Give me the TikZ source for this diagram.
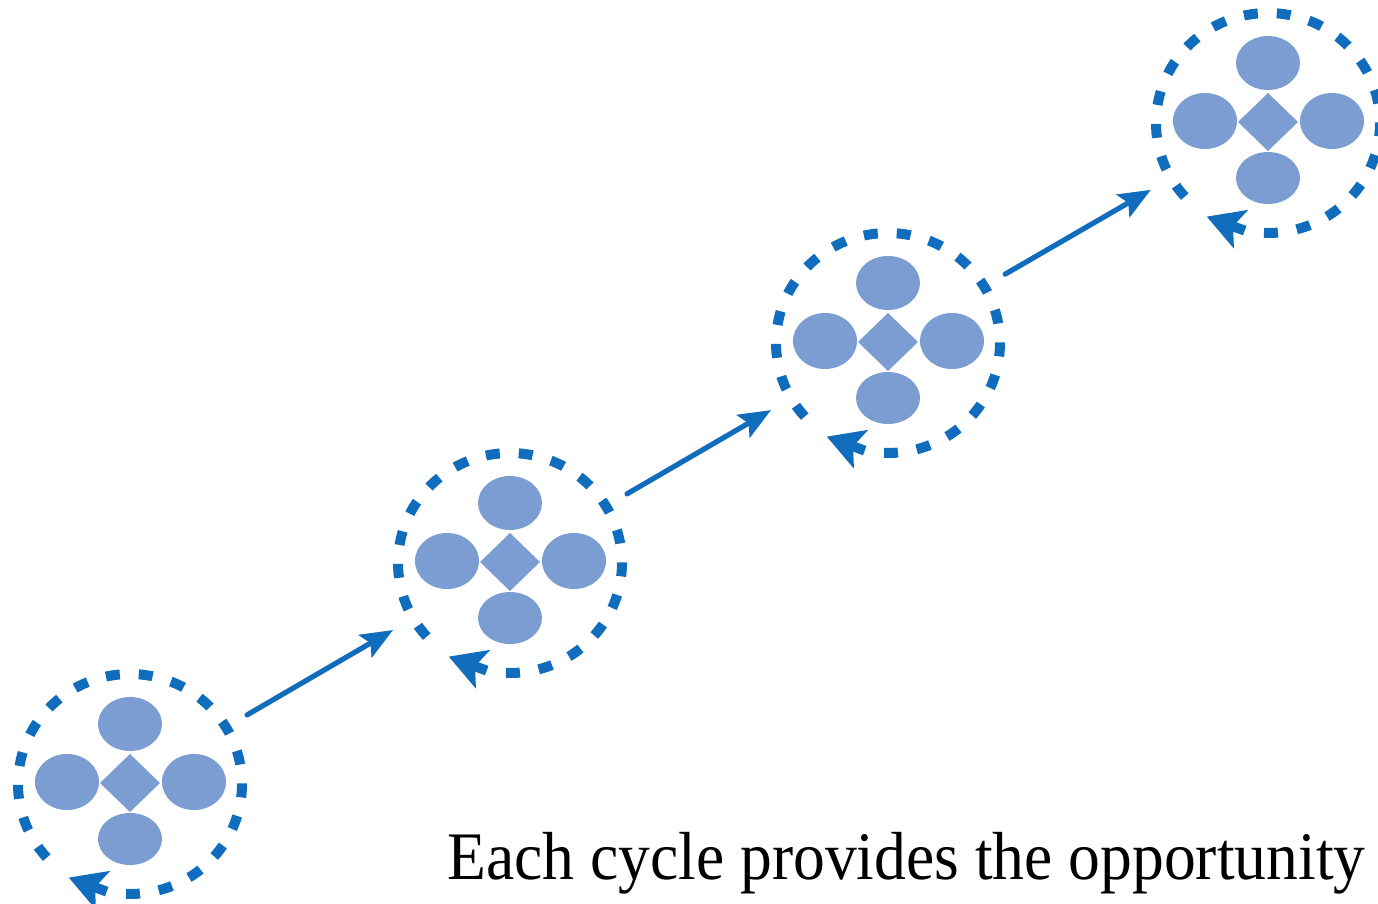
\documentclass[tikz,border=0pt]{standalone}
\usepackage{fontspec}
\setmainfont{Liberation Serif}
\usetikzlibrary{arrows.meta}
\definecolor{ringblue}{RGB}{16,108,188}
\definecolor{petal}{RGB}{123,157,210}
\newlength\captw
\begin{document}
\settowidth\captw{\fontsize{34pt}{40pt}\selectfont Each cycle provides the opportunity}
\pgfmathsetmacro\capsx{459pt/\captw}
\begin{tikzpicture}[x=0.5pt,y=-0.5pt,
  hub/.style={circle, draw=none, minimum size=135pt, inner sep=0pt},
  ring/.style={draw=ringblue, line width=5pt, dash pattern=on 7pt off 9.5pt},
  ringtip/.style={draw=ringblue, line width=5pt,
    -{Stealth[length=18pt,width=20pt,inset=4pt]}},
  flow/.style={draw=ringblue, line width=2.6pt, line cap=round,
    -{Stealth[length=16pt,width=13pt,inset=3pt]}},
  petalfill/.style={fill=petal}]
\useasboundingbox (0,0) rectangle (1378,904);
\foreach \i/\x/\y in {1/130/783, 2/510/562, 3/888/342, 4/1268/122}{
  \node[hub] (c\i) at (\x,\y) {};
  \fill[petalfill] (\x,\y-59) ellipse [x radius=32, y radius=27];
  \fill[petalfill] (\x,\y+56) ellipse [x radius=32, y radius=26];
  \fill[petalfill] (\x-63,\y-1) ellipse [x radius=32, y radius=28];
  \fill[petalfill] (\x+64,\y-1) ellipse [x radius=32, y radius=28];
  \fill[petalfill] (\x,\y-29) -- (\x+30,\y) -- (\x,\y+29) -- (\x-30,\y) -- cycle;
  \draw[ring] (\x,\y+1) ++(-222:112 and 110)
    arc[start angle=-222, end angle=100, x radius=112, y radius=110];
  \draw[ringtip] (\x,\y+1) ++(102:112 and 110) -- ++(-38,-14);
}
\draw[flow] (c1) -- (c2);
\draw[flow] (c2) -- (c3);
\draw[flow] (c3) -- (c4);
\node[anchor=base west, inner sep=0pt] (cap) at (447,879)
  {\scalebox{\capsx}[1]{\fontsize{34pt}{40pt}\selectfont Each cycle provides the opportunity}};
\end{tikzpicture}
\end{document}
